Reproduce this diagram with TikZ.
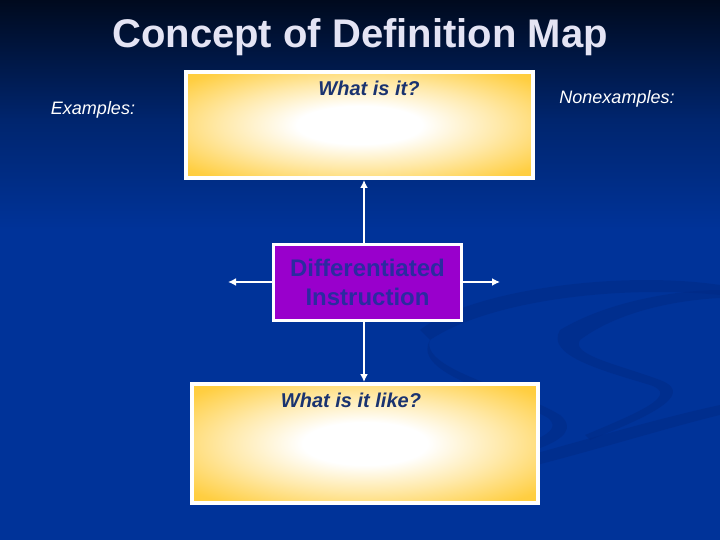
\documentclass[tikz,border=0pt]{standalone}
\usepackage{fontspec}
\setmainfont{Liberation Sans}
\usetikzlibrary{arrows.meta}
\definecolor{bgtop}{HTML}{000A1E}
\definecolor{bgmid}{HTML}{00256E}
\definecolor{bgbot}{HTML}{003399}
\definecolor{goldy}{HTML}{FFC829}
\definecolor{purp}{HTML}{9900CC}
\definecolor{purtext}{HTML}{2B2BA0}
\definecolor{navytext}{HTML}{1A3370}
\definecolor{titlecol}{HTML}{E4E4F4}
\definecolor{swoosh}{HTML}{002A85}
\pgfdeclareradialshading{yelglow}{\pgfpoint{0bp}{0bp}}{%
  color(0bp)=(white); color(9bp)=(white); color(20bp)=(goldy!40!white);
  color(32bp)=(goldy!88!white); color(40bp)=(goldy); color(50bp)=(goldy)}
\tikzset{
  yellowbox/.style={draw=white, line width=4pt, shading=yelglow, inner sep=0pt},
  purplebox/.style={draw=white, line width=3pt, fill=purp, inner sep=0pt,
    text=purtext, font=\bfseries\fontsize{24}{29}\selectfont, align=center},
  conn/.style={draw=white, line width=1.6pt, -{Latex[length=8pt,width=8pt]}},
  boxlabel/.style={text=navytext, font=\bfseries\itshape\fontsize{20}{24}\selectfont, inner sep=0pt},
  sidelabel/.style={text=white, font=\itshape\fontsize{18}{21}\selectfont, inner sep=0pt},
}
\begin{document}
\begin{tikzpicture}[x=1pt,y=-1pt]
\useasboundingbox (0,0) rectangle (720,540);
% background
\shade[top color=bgtop, bottom color=bgmid] (0,0) rectangle (720,120);
\shade[top color=bgmid, bottom color=bgbot] (0,120) rectangle (720,230);
\fill[bgbot] (0,230) rectangle (720,540);
% faint swooshes
\begin{scope}[opacity=0.5]
\fill[swoosh] (420,330) .. controls (470,290) and (620,270) .. (720,285)
  -- (720,295) .. controls (620,285) and (490,300) .. (430,340) -- cycle;
\fill[swoosh] (430,340) .. controls (420,370) and (520,390) .. (560,415)
  .. controls (590,440) and (520,460) .. (430,470)
  -- (430,462) .. controls (510,452) and (570,435) .. (548,418)
  .. controls (510,395) and (410,375) .. (430,340) -- cycle;
\fill[swoosh] (560,330) .. controls (610,300) and (680,290) .. (720,290)
  -- (720,298) .. controls (680,300) and (620,310) .. (580,340)
  .. controls (570,355) and (620,365) .. (660,380)
  .. controls (700,395) and (640,420) .. (590,440)
  -- (585,435) .. controls (640,412) and (680,395) .. (650,385)
  .. controls (600,370) and (545,355) .. (560,330) -- cycle;
\fill[swoosh] (440,480) .. controls (550,450) and (650,420) .. (720,405)
  -- (720,415) .. controls (650,432) and (550,465) .. (440,488) -- cycle;
\end{scope}
% title
\node[text=titlecol, font=\bfseries\fontsize{40}{44}\selectfont, inner sep=0pt] (title) at (360,37) {Concept of Definition Map};
% boxes
\node[yellowbox, minimum width=347pt, minimum height=106pt] (top) at (359.5,125) {};
\node[purplebox, minimum width=188pt, minimum height=76pt] (mid) at (367.5,282) {Differentiated\\Instruction};
\node[yellowbox, minimum width=346pt, minimum height=119pt] (bot) at (365,443.5) {};
% labels
\node[boxlabel] (q1) at (369,88) {What is it?};
\node[boxlabel] (q2) at (351,400) {What is it like?};
\node[sidelabel] (ex) at (93,110) {Examples:};
\node[sidelabel] (nex) at (617,99) {Nonexamples:};
% connectors
\coordinate (lft) at (228,282);
\coordinate (rgt) at (500,282);
\draw[conn] ([xshift=-3.5pt]mid.north) -- ([xshift=-3.5pt]mid.north |- top.south);
\draw[conn] ([xshift=-3.5pt]mid.south) -- ([xshift=-3.5pt]mid.south |- bot.north);
\draw[conn] (mid.west) -- (lft);
\draw[conn] (mid.east) -- (rgt);
\end{tikzpicture}
\end{document}
